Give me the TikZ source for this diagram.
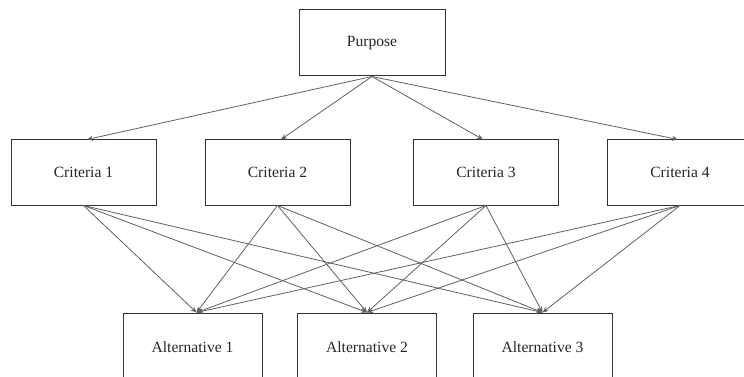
\documentclass[tikz,border=0pt]{standalone}
\usepackage{fontspec}
\setmainfont{Liberation Serif}
\usetikzlibrary{arrows.meta}
\tikzset{
  box/.style={draw=black!80, line width=1pt, fill=white, minimum width=145pt, minimum height=65pt, inner sep=0pt, font=\fontsize{15.6}{18}\selectfont, text=black!85},
  link/.style={draw=black!62, line width=0.8pt, -{Stealth[length=6pt,width=5pt]}}
}
\begin{document}
\begin{tikzpicture}[x=1pt,y=-1pt]
\useasboundingbox (0,0) rectangle (744,377);
\clip (0,0) rectangle (744,377);
\fill[white] (0,0) rectangle (744,377);
\node[box, minimum width=146pt, minimum height=66pt] (p) at (372,43) {Purpose};
\node[box] (c1) at (83.5,172.5) {Criteria 1};
\node[box] (c2) at (277.5,172.5) {Criteria 2};
\node[box] (c3) at (486,172.5) {Criteria 3};
\node[box] (c4) at (680,172.5) {Criteria 4};
\node[box, minimum width=139pt, minimum height=68pt] (a1) at (192.5,347) {Alternative 1};
\node[box, minimum width=139pt, minimum height=68pt] (a2) at (367,347) {Alternative 2};
\node[box, minimum width=139pt, minimum height=68pt] (a3) at (542.5,347) {Alternative 3};
\foreach \c/\s in {c1/3.5, c2/3.5, c3/-3, c4/-2}
  \draw[link] (p.south) -- ([xshift=\s pt]\c.north);
\foreach \c in {c1,c2,c3,c4}{
  \draw[link] (\c.south) -- ([xshift=4pt]a1.north);
  \draw[link] (\c.south) -- (a2.north);
  \draw[link] (\c.south) -- (a3.north);
}
\end{tikzpicture}
\end{document}
